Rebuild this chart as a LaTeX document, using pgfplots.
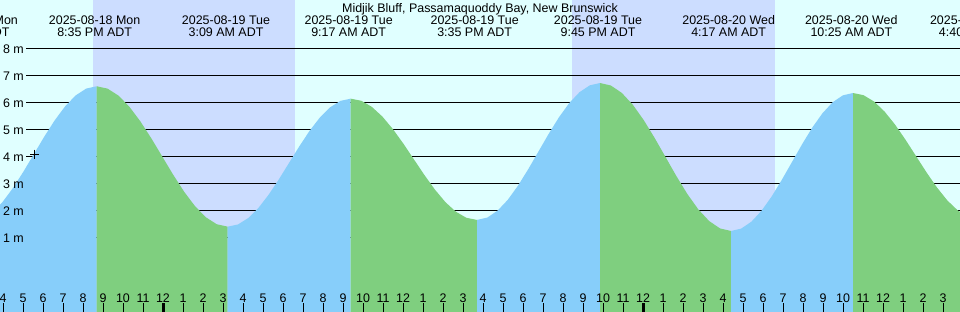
\documentclass[border=0pt]{standalone}
\usepackage{fontspec}
\setmainfont{Liberation Sans}
\usepackage{pgfplots}
\pgfplotsset{compat=1.18}
\definecolor{daybg}{RGB}{224,255,255}
\definecolor{nightbg}{RGB}{204,221,255}
\definecolor{rise}{RGB}{135,206,250}
\definecolor{fall}{RGB}{127,207,127}
\begin{document}
\begin{tikzpicture}[font=\fontsize{12.5}{14}\selectfont]
\begin{axis}[
  width=960bp, height=312bp, scale only axis,
  xmin=-8.15, xmax=39.85, ymin=-1.7407, ymax=9.8148,
  axis background/.style={fill=daybg},
  axis line style={draw=none},
  axis on top,
  ytick=\empty,
  xtick={-8,...,39},
  xticklabels={4,5,6,7,8,9,10,11,12,1,2,3,4,5,6,7,8,9,10,11,12,1,2,3,4,5,6,7,8,9,10,11,12,1,2,3,4,5,6,7,8,9,10,11,12,1,2,3},
  xtick pos=left,
  tick align=inside,
  major tick length=9bp,
  tick style={black, line width=1bp},
  xticklabel style={anchor=base, yshift=10bp, inner sep=0pt},
  extra x ticks={0,24},
  extra x tick labels={},
  extra x tick style={tick style={black, line width=3bp}},
  clip=true,
]
% night bands
\addplot[fill=nightbg, draw=none] coordinates {(-3.485,-2) (-3.485,10) (6.6,10) (6.6,-2)};
\addplot[fill=nightbg, draw=none] coordinates {(20.45,-2) (20.45,10) (30.6,10) (30.6,-2)};
% grid lines
\addplot[black, line width=1bp] coordinates {(-6.85,1) (40,1)};
\addplot[black, line width=1bp] coordinates {(-6.85,2) (40,2)};
\addplot[black, line width=1bp] coordinates {(-6.85,3) (40,3)};
\addplot[black, line width=1bp] coordinates {(-6.85,4) (40,4)};
\addplot[black, line width=1bp] coordinates {(-6.85,5) (40,5)};
\addplot[black, line width=1bp] coordinates {(-6.85,6) (40,6)};
\addplot[black, line width=1bp] coordinates {(-6.85,7) (40,7)};
\addplot[black, line width=1bp] coordinates {(-6.85,8) (40,8)};
% tide segments
\addplot[fill=rise, draw=none] table {
x y
-8.5525 1.927
-8.0288 2.327
-7.505 2.848
-6.9813 3.454
-6.4575 4.105
-5.9338 4.756
-5.41 5.3625
-4.8863 5.883
-4.3625 6.283
-3.8388 6.534
-3.315 6.62
-3.315 -2
-8.5525 -2
};
\addplot[fill=fall, draw=none] table {
x y
-3.315 6.62
-2.769 6.531
-2.2233 6.272
-1.6775 5.858
-1.1317 5.32
-0.5858 4.693
-0.04 4.02
0.5058 3.347
1.0517 2.72
1.5975 2.1815
2.1433 1.768
2.6892 1.509
3.235 1.42
3.235 -2
-3.315 -2
};
\addplot[fill=rise, draw=none] table {
x y
3.235 1.42
3.7475 1.501
4.26 1.7375
4.7725 2.114
5.285 2.605
5.7975 3.177
6.31 3.79
6.8225 4.403
7.335 4.975
7.8475 5.466
8.36 5.8425
8.8725 6.079
9.385 6.16
9.385 -2
3.235 -2
};
\addplot[fill=fall, draw=none] table {
x y
9.385 6.16
9.9113 6.0835
10.4375 5.859
10.9638 5.502
11.49 5.0375
12.0163 4.496
12.5425 3.915
13.0688 3.334
13.595 2.7925
14.1213 2.3276
14.6475 1.971
15.1738 1.7465
15.7 1.67
15.7 -2
9.385 -2
};
\addplot[fill=rise, draw=none] table {
x y
15.7 1.67
16.2125 1.756
16.725 2.0096
17.2375 2.4125
17.75 2.9375
18.2625 3.549
18.775 4.205
19.2875 4.861
19.8 5.4725
20.3125 5.9975
20.825 6.4004
21.3375 6.6536
21.85 6.74
21.85 -2
15.7 -2
};
\addplot[fill=fall, draw=none] table {
x y
21.85 6.74
22.3958 6.6466
22.9417 6.373
23.4875 5.9375
24.0333 5.37
24.5792 4.709
25.125 4.0
25.6708 3.291
26.2167 2.63
26.7625 2.0625
27.3083 1.627
27.8542 1.3534
28.4 1.26
28.4 -2
21.85 -2
};
\addplot[fill=rise, draw=none] table {
x y
28.4 1.26
28.9083 1.347
29.4167 1.602
29.925 2.008
30.4333 2.5375
30.9417 3.154
31.45 3.815
31.9583 4.476
32.4667 5.0925
32.975 5.6216
33.4833 6.028
33.9917 6.283
34.5 6.37
34.5 -2
28.4 -2
};
\addplot[fill=fall, draw=none] table {
x y
34.5 6.37
35.025 6.290
35.55 6.057
36.075 5.686
36.6 5.2025
37.125 4.639
37.65 4.035
38.175 3.431
38.7 2.8675
39.225 2.384
39.75 2.013
40.275 1.78
40.275 -2
34.5 -2
};
% current time marker
\addplot[only marks, mark=+, mark size=4.5bp, black, line width=1bp] coordinates {(-6.42,4.11)};
% level labels
\node[anchor=east, inner sep=0pt] at (axis cs:-6.95,1) {1 m};
\node[anchor=east, inner sep=0pt] at (axis cs:-6.95,2) {2 m};
\node[anchor=east, inner sep=0pt] at (axis cs:-6.95,3) {3 m};
\node[anchor=east, inner sep=0pt] at (axis cs:-6.95,4) {4 m};
\node[anchor=east, inner sep=0pt] at (axis cs:-6.95,5) {5 m};
\node[anchor=east, inner sep=0pt] at (axis cs:-6.95,6) {6 m};
\node[anchor=east, inner sep=0pt] at (axis cs:-6.95,7) {7 m};
\node[anchor=east, inner sep=0pt] at (axis cs:-6.95,8) {8 m};
% title
\node[anchor=base, inner sep=0pt] at (axis cs:15.85,9.370) {Midjik Bluff, Passamaquoddy Bay, New Brunswick};
% event labels
\node[anchor=base, inner sep=0pt] at (axis cs:-9.54,8.907) {2025-08-18 Mon};
\node[anchor=base, inner sep=0pt] at (axis cs:-9.54,8.481) {2:28 PM ADT};
\node[anchor=base, inner sep=0pt] at (axis cs:-3.4167,8.907) {2025-08-18 Mon};
\node[anchor=base, inner sep=0pt] at (axis cs:-3.4167,8.481) {8:35 PM ADT};
\node[anchor=base, inner sep=0pt] at (axis cs:3.15,8.907) {2025-08-19 Tue};
\node[anchor=base, inner sep=0pt] at (axis cs:3.15,8.481) {3:09 AM ADT};
\node[anchor=base, inner sep=0pt] at (axis cs:9.2833,8.907) {2025-08-19 Tue};
\node[anchor=base, inner sep=0pt] at (axis cs:9.2833,8.481) {9:17 AM ADT};
\node[anchor=base, inner sep=0pt] at (axis cs:15.5833,8.907) {2025-08-19 Tue};
\node[anchor=base, inner sep=0pt] at (axis cs:15.5833,8.481) {3:35 PM ADT};
\node[anchor=base, inner sep=0pt] at (axis cs:21.75,8.907) {2025-08-19 Tue};
\node[anchor=base, inner sep=0pt] at (axis cs:21.75,8.481) {9:45 PM ADT};
\node[anchor=base, inner sep=0pt] at (axis cs:28.2833,8.907) {2025-08-20 Wed};
\node[anchor=base, inner sep=0pt] at (axis cs:28.2833,8.481) {4:17 AM ADT};
\node[anchor=base, inner sep=0pt] at (axis cs:34.4167,8.907) {2025-08-20 Wed};
\node[anchor=base, inner sep=0pt] at (axis cs:34.4167,8.481) {10:25 AM ADT};
\node[anchor=base, inner sep=0pt] at (axis cs:40.6667,8.907) {2025-08-20 Wed};
\node[anchor=base, inner sep=0pt] at (axis cs:40.6667,8.481) {4:40 PM ADT};
\end{axis}
\pgfresetboundingbox
\path[use as bounding box] (current axis.south west) rectangle (current axis.north east);
\end{tikzpicture}
\end{document}
